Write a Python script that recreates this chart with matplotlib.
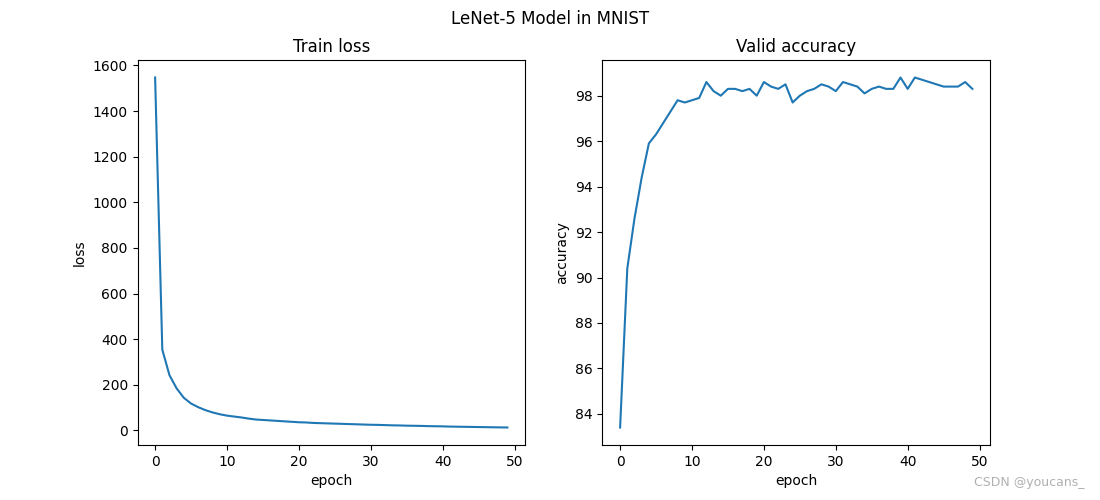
import matplotlib
matplotlib.use("Agg")
import matplotlib.pyplot as plt

# values
epochs = list(range(50))

train_loss = [1547, 354, 242, 184, 143, 118, 102, 89, 79, 71,
              65, 61, 57, 52, 48, 46, 44, 42, 40, 38,
              36, 35, 33, 32, 31, 30, 29, 28, 27, 26,
              25, 24.5, 23.5, 22.5, 22, 21, 20.5, 20, 19, 18.5,
              18, 17, 16.5, 16, 15.5, 15, 14.5, 14, 13.5, 13]

valid_acc = [83.4, 90.4, 92.6, 94.4, 95.9, 96.3, 96.8, 97.3, 97.8, 97.7,
             97.8, 97.9, 98.6, 98.2, 98.0, 98.3, 98.3, 98.2, 98.3, 98.0,
             98.6, 98.4, 98.3, 98.5, 97.7, 98.0, 98.2, 98.3, 98.5, 98.4,
             98.2, 98.6, 98.5, 98.4, 98.1, 98.3, 98.4, 98.3, 98.3, 98.8,
             98.3, 98.8, 98.7, 98.6, 98.5, 98.4, 98.4, 98.4, 98.6, 98.3]


def main():
    fig = plt.figure(figsize=(11, 5), dpi=100)
    fig.suptitle("LeNet-5 Model in MNIST")

    ax1 = fig.add_subplot(1, 2, 1)
    ax1.set_title("Train loss")
    ax1.plot(epochs, train_loss)
    ax1.set_xlabel("epoch")
    ax1.set_ylabel("loss")

    ax2 = fig.add_subplot(1, 2, 2)
    ax2.set_title("Valid accuracy")
    ax2.plot(epochs, valid_acc)
    ax2.set_xlabel("epoch")
    ax2.set_ylabel("accuracy")

    # watermark in the bottom right corner
    fig.text(0.986, 0.022, "CSDN @youcans_", ha="right", va="bottom",
             fontsize=9, color="#b0b0b0")

    plt.savefig("out.png", dpi=100)


if __name__ == "__main__":
    main()
